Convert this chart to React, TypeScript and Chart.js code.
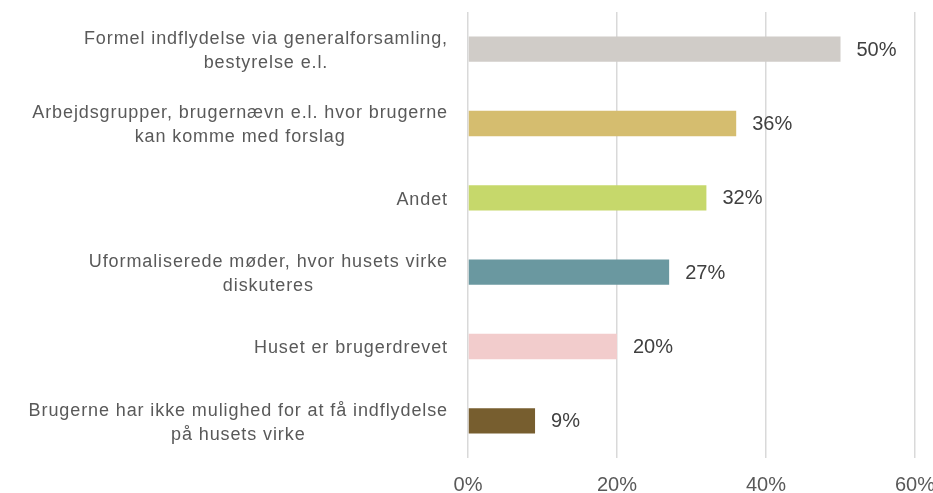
import React, { useEffect, useRef } from "react";
import { Chart, registerables } from "chart.js";

Chart.register(...registerables);

const categories: string[][] = [
  ["Formel indflydelse via generalforsamling,", "bestyrelse e.l."],
  ["Arbejdsgrupper, brugernævn e.l. hvor brugerne", "kan komme med forslag"],
  ["Andet"],
  ["Uformaliserede møder, hvor husets virke", "diskuteres"],
  ["Huset er brugerdrevet"],
  ["Brugerne har ikke mulighed for at få indflydelse", "på husets virke"],
];
const values: number[] = [50, 36, 32, 27, 20, 9];
const barColors: string[] = ["#d0ccc8", "#d5bd6f", "#c6d86b", "#6a98a0", "#f2cccc", "#775e2f"];
const xTicks: number[] = [0, 20, 40, 60];

const FONT = "'Liberation Sans', Arial, sans-serif";
const TEXT = "#595959";

export default function App() {
  const ref = useRef<HTMLCanvasElement | null>(null);
  useEffect(() => {
    document.body.style.margin = "0";
    const canvas = ref.current!;
    const labelPlugin = {
      id: "customLabels",
      afterDatasetsDraw(chart: any) {
        const ctx = chart.ctx as any;
        const meta = chart.getDatasetMeta(0);
        const xs = chart.scales.x;
        ctx.save();
        // value labels
        ctx.font = `20px ${FONT}`;
        ctx.fillStyle = "#404040";
        ctx.textAlign = "left";
        ctx.textBaseline = "middle";
        meta.data.forEach((bar: any, i: number) => {
          ctx.fillText(values[i] + "%", bar.x + 16, bar.y + 1);
        });
        // x tick labels
        ctx.fillStyle = TEXT;
        ctx.textAlign = "center";
        xTicks.forEach((v) => {
          ctx.fillText(v + "%", xs.getPixelForValue(v), chart.chartArea.bottom + 27);
        });
        // category labels
        ctx.font = `18px ${FONT}`;
        try { ctx.letterSpacing = "0.9px"; } catch (e) {}
        ctx.fillStyle = TEXT;
        ctx.textAlign = "center";
        const right = chart.chartArea.left - 20;
        const lh = 24;
        meta.data.forEach((bar: any, i: number) => {
          const lines = categories[i];
          const w = Math.max(...lines.map((l) => ctx.measureText(l).width));
          const cx = right - w / 2;
          const y0 = bar.y + 2 - ((lines.length - 1) * lh) / 2;
          lines.forEach((l, j) => ctx.fillText(l, cx, y0 + j * lh));
        });
        ctx.restore();
      },
    };
    const chart = new Chart(canvas, {
      type: "bar",
      data: {
        labels: categories.map((c) => c.join(" ")),
        datasets: [
          {
            data: values,
            backgroundColor: barColors,
            borderWidth: 0,
            categoryPercentage: 1,
            barPercentage: 0.34,
          },
        ],
      },
      options: {
        indexAxis: "y",
        animation: false,
        responsive: false,
        layout: { padding: { left: 468, top: 12, right: 18, bottom: 35 } },
        plugins: { legend: { display: false }, tooltip: { enabled: false } },
        scales: {
          x: {
            min: 0,
            max: 60,
            afterBuildTicks: (axis: any) => {
              axis.ticks = xTicks.map((v) => ({ value: v }));
            },
            ticks: { display: false },
            grid: { color: "#d9d9d9", lineWidth: 1.5, drawTicks: false },
            border: { display: false },
          },
          y: {
            display: false,
          },
        },
      },
      plugins: [labelPlugin],
    });
    return () => chart.destroy();
  }, []);
  return <canvas ref={ref} width={933} height={493} style={{ display: "block" }} />;
}
